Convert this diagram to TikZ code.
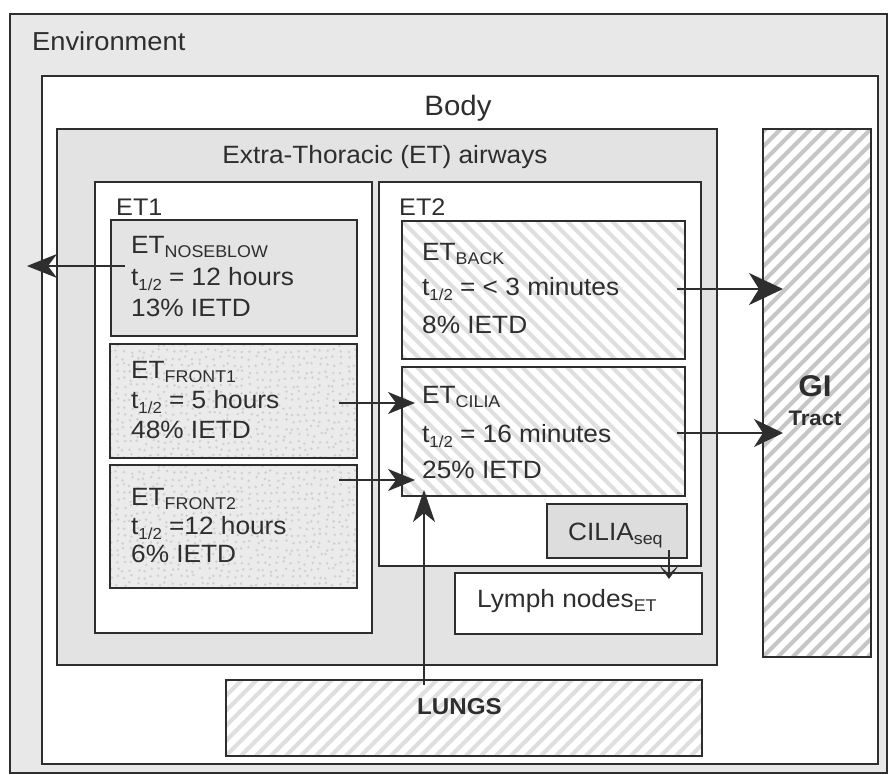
\documentclass[tikz,border=0pt]{standalone}
\usepackage{fontspec}
\setmainfont{Liberation Sans}[FakeStretch=1.05]
\usetikzlibrary{arrows.meta}
\definecolor{ink}{HTML}{2E2E2E}
\definecolor{envc}{HTML}{E8E8E8}
\definecolor{etc}{HTML}{E3E3E3}
\definecolor{nosec}{HTML}{E4E4E4}
\definecolor{seqc}{HTML}{DDDDDD}
\definecolor{dotbg}{HTML}{EBEBEB}
\definecolor{dotc}{HTML}{D0D0D0}
\definecolor{gihatch}{HTML}{C6C6C6}
\definecolor{lighthatch}{HTML}{DFDFDF}
\newcommand{\sbs}[1]{\raisebox{-4pt}{\fontsize{17}{17}\selectfont #1}}
\newcommand{\thalf}{t\raisebox{-5pt}{\fontsize{16}{16}\selectfont 1/2}}
\begin{document}
\begin{tikzpicture}[x=1pt,y=-1pt,
  box/.style={draw=ink, line width=1.8pt, inner sep=0pt, anchor=north west},
  hatchup/.style={path picture={
     \foreach \i in {-660,-645,...,700}{
       \draw[#1, line width=4pt] ([xshift=\i pt]path picture bounding box.south west) -- ++(700,-700);}}},
  hatchdown/.style={path picture={
     \foreach \i in {-660,-645,...,700}{
       \draw[#1, line width=4pt] ([xshift=\i pt]path picture bounding box.north west) -- ++(700,700);}}},
  dotty/.style={fill=dotbg, path picture={
     \pgfmathsetseed{11}
     \foreach \x in {0,7,...,252}{\foreach \y in {0,7,...,126}{
       \fill[dotc] ([xshift={\x pt+rand*2pt}, yshift={-\y pt+rand*2pt}]path picture bounding box.north west) circle (1.4pt);}}}},
  txt/.style={text=ink, inner sep=0pt, anchor=base west, font=\fontsize{25}{25}\selectfont},
  ttl/.style={text=ink, inner sep=0pt, anchor=base},
  arr/.style={draw=ink, line width=1.9pt}
]
\useasboundingbox (0,0) rectangle (889,774);
% containers
\node[box, fill=envc, minimum width=877pt, minimum height=759pt] (env) at (9,13) {};
\node[box, fill=white, minimum width=836pt, minimum height=688pt] (body) at (41,75) {};
\node[box, fill=etc, minimum width=660pt, minimum height=536pt] (etair) at (56,128) {};
\node[box, fill=white, minimum width=277pt, minimum height=451pt] (et1) at (94,181) {};
\node[box, fill=white, minimum width=322pt, minimum height=384pt] (et2) at (378,181) {};
% compartments
\node[box, fill=nosec, minimum width=246pt, minimum height=116pt] (nose) at (110,219) {};
\node[box, dotty, minimum width=247pt, minimum height=114pt] (front1) at (109,343) {};
\node[box, dotty, minimum width=247pt, minimum height=123pt] (front2) at (109,464) {};
\node[box, fill=white, hatchdown=lighthatch, minimum width=283pt, minimum height=138pt] (back) at (401,220) {};
\node[box, fill=white, hatchdown=lighthatch, minimum width=283pt, minimum height=129pt] (cilia) at (401,366) {};
\node[box, fill=seqc, minimum width=140pt, minimum height=54pt] (seq) at (546,503) {};
\node[box, fill=white, minimum width=247pt, minimum height=61pt] (lymph) at (454,572) {};
\node[box, fill=white, hatchup=lighthatch, minimum width=476pt, minimum height=76pt] (lungs) at (225,679) {};
\node[box, fill=white, hatchup=gihatch, minimum width=108pt, minimum height=528pt] (gi) at (762,128) {};
% titles
\node[txt, font=\fontsize{26}{26}\selectfont] (tenv) at (32,50) {Environment};
\node[ttl, font=\fontsize{28}{28}\selectfont] (tbody) at (458,115) {Body};
\node[ttl, font=\fontsize{25}{25}\selectfont] (tet) at (385,163) {Extra-Thoracic (ET) airways};
\node[txt, font=\fontsize{24}{24}\selectfont] (tet1) at (116,215) {ET1};
\node[txt, font=\fontsize{24}{24}\selectfont] (tet2) at (399,215) {ET2};
% compartment texts
\node[txt] (n1) at (131,253) {ET\sbs{NOSEBLOW}};
\node[txt] (n2) at (131,285) {\thalf\ = 12 hours};
\node[txt] (n3) at (131,316) {13\% IETD};
\node[txt] (f11) at (131,378) {ET\sbs{FRONT1}};
\node[txt] (f12) at (131,408) {\thalf\ = 5 hours};
\node[txt] (f13) at (131,438) {48\% IETD};
\node[txt] (f21) at (131,505) {ET\sbs{FRONT2}};
\node[txt] (f22) at (131,534) {\thalf\ =12 hours};
\node[txt] (f23) at (131,562) {6\% IETD};
\node[txt] (b1) at (422,260) {ET\sbs{BACK}};
\node[txt] (b2) at (422,295) {\thalf\ = {<} 3 minutes};
\node[txt] (b3) at (422,333) {8\% IETD};
\node[txt] (c1) at (422,403) {ET\sbs{CILIA}};
\node[txt] (c2) at (422,442) {\thalf\ = 16 minutes};
\node[txt] (c3) at (422,478) {25\% IETD};
\node[txt] (s1) at (568,540) {CILIA\sbs{seq}};
\node[txt] (l1) at (477,607) {Lymph nodes\sbs{ET}};
\node[txt, font=\fontsize{23}{23}\selectfont\bfseries] (lu) at (417,714) {LUNGS};
\node[ttl, font=\fontsize{30}{30}\selectfont\bfseries] (g1) at (815,396) {GI};
\node[ttl, font=\fontsize{21}{21}\selectfont\bfseries] (g2) at (815,425) {Tract};
% connector end points
\coordinate (noseS) at (125,266);  \coordinate (envE) at (27,266);
\coordinate (f1S) at (339,403);    \coordinate (f1E) at (415,403);
\coordinate (f2S) at (339,480);    \coordinate (f2E) at (415,480);
\coordinate (luS) at (424,685);    \coordinate (luE) at (424,490);
\coordinate (bkS) at (677,289);    \coordinate (bkE) at (783,289);
\coordinate (ciS) at (677,433);    \coordinate (ciE) at (783,433);
\coordinate (sqS) at (669,550);    \coordinate (sqE) at (669,579);
% connectors
\draw[arr, -{Stealth[length=30pt,width=24pt,inset=9pt]}] (noseS) -- (envE);
\draw[arr, -{Stealth[length=27pt,width=22pt,inset=8pt]}] (f1S) -- (f1E);
\draw[arr, -{Stealth[length=27pt,width=22pt,inset=8pt]}] (f2S) -- (f2E);
\draw[arr, -{Stealth[length=32pt,width=22pt,inset=9pt]}] (luS) -- (luE);
\draw[arr, -{Stealth[length=34pt,width=32pt,inset=10pt]}] (bkS) -- (bkE);
\draw[arr, -{Stealth[length=29pt,width=28pt,inset=9pt]}] (ciS) -- (ciE);
\draw[arr, line width=1.5pt, -{Stealth[length=14pt,width=20pt,inset=9pt]}] (sqS) -- (sqE);
\end{tikzpicture}
\end{document}
